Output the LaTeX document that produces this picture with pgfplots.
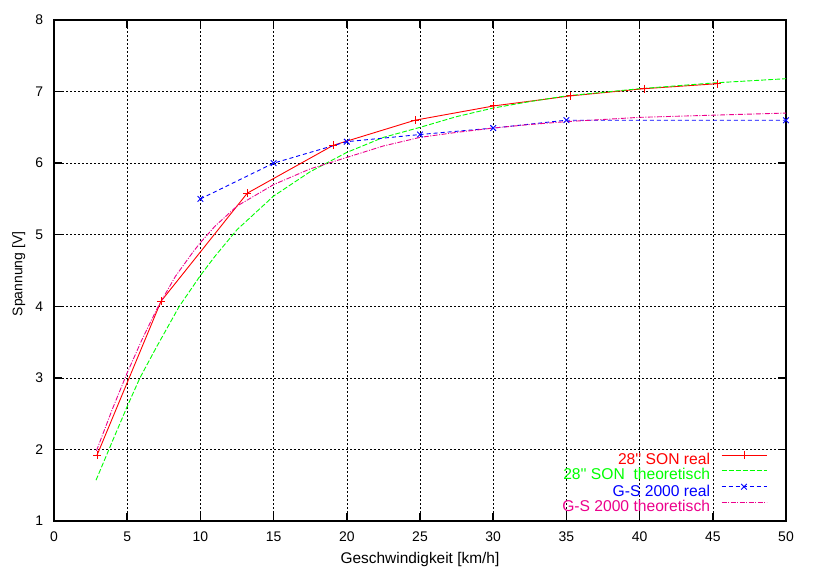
\documentclass[border=0pt]{standalone}
\usepackage{fontspec}
\setmainfont{Liberation Sans}
\usepackage{pgfplots}
\pgfplotsset{compat=1.18}
\begin{document}
\begin{tikzpicture}
\useasboundingbox (-54bp,-52bp) rectangle (761bp,521bp);
\begin{axis}[
  at={(0,0)}, anchor=south west,
  scale only axis, width=732bp, height=501bp,
  xmin=0, xmax=50, ymin=1, ymax=8,
  xtick={0,5,...,50}, ytick={1,2,...,8},
  tick align=inside, major tick length=8bp,
  every tick/.style={black, line width=1.5bp},
  axis line style={line width=2bp},
  grid=major,
  major grid style={black, line width=0.6bp, dash pattern=on 2bp off 2bp},
  /pgf/number format/assume math mode=true,
  ticklabel style={font=\fontsize{14}{16}\selectfont},
  xticklabel style={inner sep=0pt, yshift=-10.7bp},
  yticklabel style={inner sep=0pt, xshift=-10.7bp},
  xlabel={Geschwindigkeit [km/h]},
  ylabel={Spannung [V]},
  xlabel style={font=\fontsize{15.5}{18}\selectfont, at={(axis description cs:0.5,-0.0768)}, anchor=center},
  ylabel style={font=\fontsize{14}{16}\selectfont, at={(axis description cs:-0.0481,0.493)}, anchor=center},
  legend style={at={(axis cs:48.70,1.074)}, anchor=south east, draw=none, fill=none,
    inner sep=0pt, outer sep=0pt, row sep=0pt, column sep=11bp,
    font=\fontsize{15.7}{18}\selectfont,
    nodes={inner sep=0pt, outer sep=0pt, text height=11.5bp, text depth=4bp}},
  legend cell align=right, legend plot pos=right,
  legend image code/.code={\draw[mark repeat=2,mark phase=2,#1] plot coordinates {(0bp,5.7bp) (22.5bp,5.7bp) (45bp,5.7bp)};},
]
\addplot[red, line width=0.9bp, mark=+, mark size=4bp, mark options={solid}] coordinates {
(2.94,1.92) (7.31,4.07) (13.2,5.58) (19.08,6.25) (24.66,6.60) (30.05,6.80) (35.3,6.94) (40.3,7.04) (45.3,7.11)};
\addlegendentry{\textcolor{red}{28\textquotesingle\textquotesingle\ SON real}}
\addplot[green, line width=0.9bp, dash pattern=on 5bp off 2bp] coordinates {
(2.87,1.57) (4,2.12) (5,2.60) (5.87,3.0) (7,3.43) (8.56,4.0) (10,4.43) (11,4.70) (12.5,5.07) (15,5.54) (17.5,5.88) (20,6.15) (22.5,6.36) (25,6.50) (27.5,6.65) (30,6.77) (32.5,6.86) (35,6.94) (37.5,6.99) (40,7.04) (42.5,7.08) (45,7.12) (47.5,7.15) (50,7.18)};
\addlegendentry{\textcolor{green}{28\textquotesingle\textquotesingle\ SON\ \ theoretisch}}
\addplot[blue, line width=0.9bp, dash pattern=on 4bp off 3bp, mark=x, mark size=4bp, mark options={solid}] coordinates {
(10,5.50) (15,6.0) (20,6.30) (25,6.40) (30,6.49) (35,6.60) (50,6.60)};
\addlegendentry{\textcolor{blue}{G-S 2000 real}}
\addplot[magenta, line width=0.9bp, dash pattern=on 5bp off 1.5bp on 1bp off 1.5bp] coordinates {
(2.9,1.98) (4,2.57) (5,3.07) (6,3.53) (7.12,4.0) (8.3,4.42) (9.5,4.76) (10,4.89) (11,5.12) (12.5,5.40) (15,5.70) (17.5,5.92) (20,6.08) (22.5,6.24) (25,6.36) (27.5,6.43) (30,6.49) (32.5,6.54) (35,6.58) (40,6.64) (45,6.67) (50,6.70)};
\addlegendentry{\textcolor{magenta}{G-S 2000 theoretisch}}
\end{axis}
\end{tikzpicture}
\end{document}
